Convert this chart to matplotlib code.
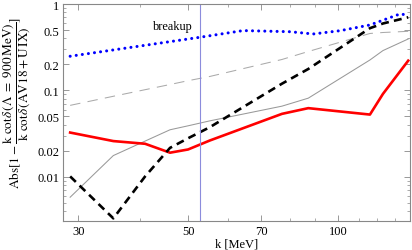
import numpy as np
import matplotlib
matplotlib.use("Agg")
import matplotlib.pyplot as plt
from matplotlib.ticker import FixedLocator, NullFormatter, LogLocator

plt.rcParams["font.family"] = ["Liberation Serif", "DejaVu Serif"]
plt.rcParams["mathtext.fontset"] = "stix"

# momentum grid (MeV) shared by most curves
k = [28.9, 35.3, 40.9, 45.9, 49.9, 55.2, 77.1, 87.1, 115.9, 123.1, 138.4]

red = [0.0325, 0.0259, 0.0241, 0.0190, 0.0207, 0.0263, 0.0535, 0.0623, 0.0525, 0.0911, 0.221]
gray_solid = [0.0058, 0.0176, 0.0259, 0.0350, 0.0389, 0.0444, 0.0657, 0.0813, 0.225, 0.289, 0.394]
black_dash = [0.0101, 0.0033, 0.0101, 0.0216, 0.0279, 0.0375, 0.1196, 0.177, 0.525, 0.595, 0.702]
gray_dash = [0.0671, 0.0855, 0.1019, 0.117, 0.1295, 0.145, 0.228, 0.282, 0.456, 0.468, 0.483]

# blue dotted curve has a slight bump, read on its own points
k_blue = [28.9, 52.7, 64.4, 80.0, 89.1, 100.9, 115.9, 133.1, 138.4]
blue = [0.2485, 0.412, 0.4925, 0.478, 0.450, 0.491, 0.572, 0.766, 0.746]

k_breakup = 52.7

fig = plt.figure(figsize=(4.12, 2.51), dpi=100)
ax = fig.add_axes([0.1537, 0.1167, 0.8413, 0.8633])

ax.plot(k, gray_dash, color="#aaaaaa", lw=0.75, dashes=(10, 7))
ax.plot(k, gray_solid, color="#999999", lw=0.75)
ax.plot(k, red, color="#ff0000", lw=1.9)
ax.plot(k, black_dash, color="black", lw=1.9, dashes=(3.0, 2.0))
ax.plot(k_blue, blue, color="#0000ff", lw=2.2, dashes=(0.01, 2.0),
        dash_capstyle="round")
ax.axvline(k_breakup, color="#8c8cdc", lw=0.8)
ax.text(51.0, 0.56, "breakup", ha="right", va="center", fontsize=8.9)

ax.set_xscale("log")
ax.set_yscale("log")
ax.set_xlim(28.0, 139.5)
ax.set_ylim(0.0031, 1.0)

ax.xaxis.set_major_locator(FixedLocator([30, 50, 70, 100]))
ax.xaxis.set_minor_locator(FixedLocator([40, 60, 80, 90, 110, 120, 130]))
ax.xaxis.set_minor_formatter(NullFormatter())
ax.set_xticklabels(["30", "50", "70", "100"])

yt = [0.01, 0.02, 0.05, 0.1, 0.2, 0.5, 1]
ax.yaxis.set_major_locator(FixedLocator(yt))
ax.set_yticklabels(["0.01", "0.02", "0.05", "0.1", "0.2", "0.5", "1"])
ax.yaxis.set_minor_locator(LogLocator(base=10, subs=np.arange(1, 10)))
ax.yaxis.set_minor_formatter(NullFormatter())

ax.tick_params(which="both", direction="in", top=True, right=True,
               color="#888888", labelsize=9, pad=3)
ax.tick_params(which="major", length=4, width=0.6)
ax.tick_params(which="minor", length=2, width=0.5)
for s in ax.spines.values():
    s.set_color("#888888")
    s.set_linewidth(0.8)

ax.set_xlabel("k [MeV]", fontsize=9, labelpad=0.5)
ylab = (r"$\mathrm{Abs}[1-\dfrac{\mathrm{k\ cot}\delta\,(\Lambda\ =\ 900\,\mathrm{MeV})}"
        r"{\mathrm{k\ cot}\delta\,(\mathrm{AV18+U\,IX})}]$")
fig.text(0.04, 1 - 103 / 251, ylab, rotation=90, ha="center", va="center", fontsize=9.5)

fig.savefig("out.png", dpi=100)
